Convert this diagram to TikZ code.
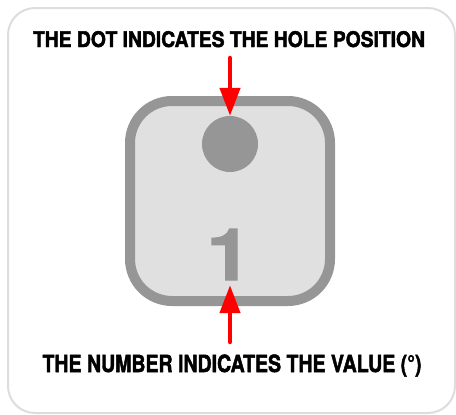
\documentclass[tikz,border=0pt]{standalone}
\usepackage{fontspec}
\setmainfont{TeX Gyre Heros}
\newfontfamily\capfont[FakeBold=2.2]{texgyreheros-bold.otf}
\newfontfamily\digitfont[FakeBold=1.5]{texgyreheros-bold.otf}
\usepackage{xcolor}
\usepackage{tikz}
\usetikzlibrary{arrows.meta}
\definecolor{tagfill}{HTML}{E0E0E0}
\definecolor{taggray}{HTML}{969696}
\definecolor{framegray}{HTML}{DDDDDD}

\begin{document}
\begin{tikzpicture}[x=1pt, y=-1pt,
  frame/.style={draw=framegray, line width=2pt, rounded corners=27pt},
  tag/.style={draw=taggray, fill=tagfill, line width=10pt, rounded corners=42pt, minimum size=200pt, inner sep=0pt},
  hole/.style={circle, fill=taggray, minimum size=56pt, inner sep=0pt},
  caption/.style={inner sep=0pt, anchor=base, text=black},
  marker/.style={draw=red, line width=4.5pt, line cap=round, -{Triangle[width=20pt, length=28pt]}}]
  \useasboundingbox (0,0) rectangle (456,415);
  \draw[frame] (8,8) rectangle (455,413);
  \node[caption] (dottext) at (229,47) {\resizebox{392pt}{16pt}{\capfont THE DOT INDICATES THE HOLE POSITION}};
  \node[caption] (numtext) at (232,372) {\resizebox{379pt}{17.5pt}{\capfont THE NUMBER INDICATES THE VALUE (°)}};
  \node[tag] (tag) at (230,201) {};
  \node[hole] (hole) at (230,144) {};
  \node[inner sep=0pt, anchor=base, text=taggray] (digit) at (229,280) {\scalebox{1.12}[1]{\resizebox{!}{51pt}{\digitfont 1}}};
  \coordinate (dottail) at (230,58);
  \coordinate (numtail) at (230,342);
  \draw[marker] (dottail) -- (hole.north);
  \draw[marker] (numtail) -- ([yshift=-5pt]numtail |- digit.south);
\end{tikzpicture}
\end{document}
